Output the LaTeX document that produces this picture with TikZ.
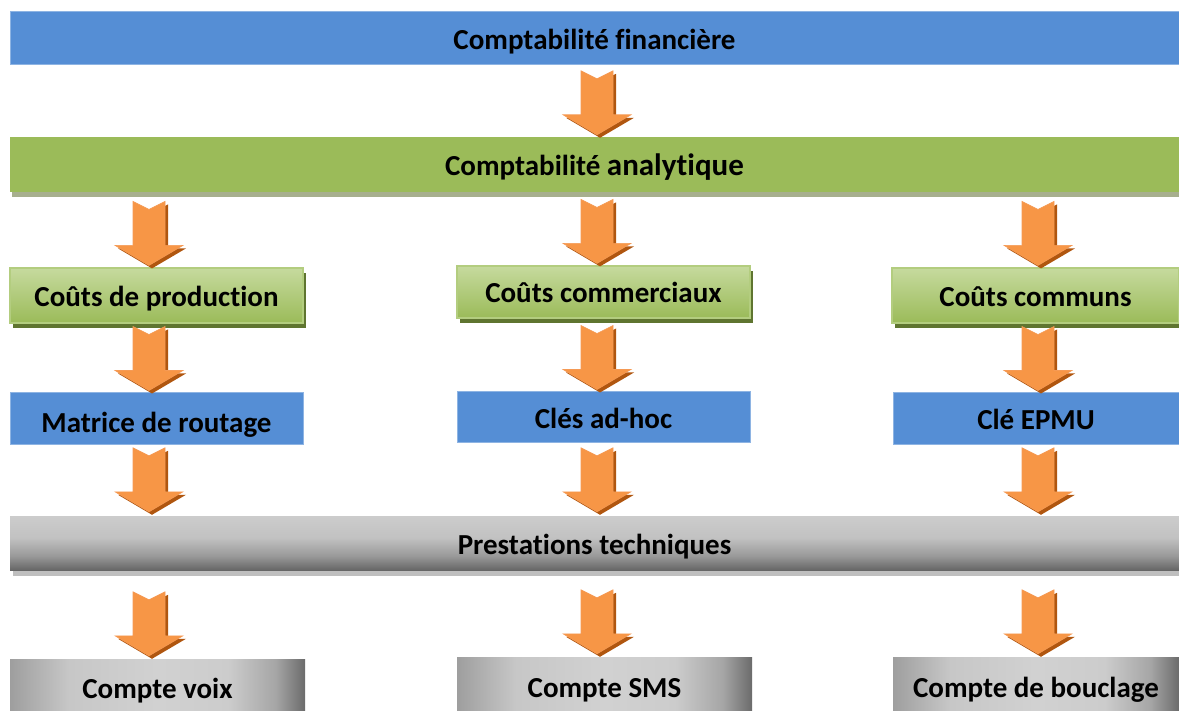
\documentclass[tikz,border=0pt]{standalone}
\usepackage{fontspec}
\setmainfont[Ligatures=NoCommon]{Carlito}
\usetikzlibrary{calc,shadows}
\definecolor{barblue}{HTML}{558ED5}
\definecolor{barblueline}{HTML}{8EB4E3}
\definecolor{bargreen}{HTML}{9BBB59}
\definecolor{greenlight}{HTML}{C6DA9E}
\definecolor{greenline}{HTML}{B3CD7F}
\definecolor{greenshadow}{HTML}{A7AF8E}
\definecolor{oliveshadow}{HTML}{5F7530}
\definecolor{orangemain}{HTML}{F79646}
\definecolor{orangelight}{HTML}{FBC8A0}
\definecolor{orangeshadow}{HTML}{B0560F}
\definecolor{orangeline}{HTML}{F59A55}
\definecolor{grayshadow}{HTML}{BFBFBF}
\pgfdeclarehorizontalshading{grayh}{100bp}{%
  color(0bp)=(black!38); color(25bp)=(black!38); color(35bp)=(black!22);
  color(50bp)=(black!18); color(62bp)=(black!20); color(70bp)=(black!35);
  color(75bp)=(black!58); color(100bp)=(black!58)}
\pgfdeclareverticalshading{grayv}{100bp}{%
  color(0bp)=(black!60); color(25bp)=(black!60); color(38bp)=(black!40);
  color(55bp)=(black!24); color(75bp)=(black!20); color(100bp)=(black!20)}
\tikzset{
  txt/.style={font=\fontsize{29}{32}\selectfont\bfseries, text=black, inner sep=0pt,
    text height=23pt, text depth=1pt},
  bluebox/.style={txt, fill=barblue, draw=barblueline, line width=1pt},
  greenbar/.style={txt, fill=bargreen,
    drop shadow={shadow xshift=2pt, shadow yshift=-5pt, fill=greenshadow, opacity=1}},
  greenbox/.style={txt, top color=greenlight, bottom color=bargreen, draw=greenline, line width=1.2pt,
    drop shadow={shadow xshift=3pt, shadow yshift=-5pt, fill=oliveshadow, opacity=1}},
  graybar/.style={txt, shading=grayv,
    drop shadow={shadow xshift=3pt, shadow yshift=-6pt, fill=grayshadow, opacity=1}},
  graybox/.style={txt, shading=grayh},
  darrow/.pic={
    \fill[orangeshadow, shift={(3,3)}] (-16,-64) -- (0,-56) -- (16,-64) -- (16,-20) -- (34,-20)
      -- (0,0) -- (-34,-20) -- (-16,-20) -- cycle;
    \shade[left color=orangemain, middle color=orangelight, right color=orangemain,
      draw=orangeline, line width=0.6pt]
      (-16,-64) -- (0,-56) -- (16,-64) -- (16,-20) -- (34,-20)
      -- (0,0) -- (-34,-20) -- (-16,-20) -- cycle;
  }
}
\begin{document}
\begin{tikzpicture}[x=1pt, y=-1pt]
\useasboundingbox (0,0) rectangle (1179,711);
% column axes for the arrows
\coordinate (colA) at (149,0);
\coordinate (colB) at (597,0);
\coordinate (colC) at (1038,0);
% nodes
\node[bluebox, minimum width=1169pt, minimum height=53pt] (fin) at (594.5,38.5) {Comptabilité financière};
\node[greenbar, minimum width=1169pt, minimum height=55pt] (ana) at (594.5,164.5)
  {Comptabilité {\fontsize{31}{34}\selectfont analytique}};
\node[greenbox, minimum width=293pt, minimum height=55pt] (cp) at (156.5,295.5) {Coûts de production};
\node[greenbox, minimum width=293pt, minimum height=52pt] (cc) at (603.5,292) {Coûts commerciaux};
\node[greenbox, minimum width=287pt, minimum height=55pt] (cm) at (1035.5,295.5) {Coûts communs};
\node[bluebox, minimum width=293pt, minimum height=52pt] (mr) at (156.5,419) {\raisebox{-3pt}{Matrice de routage}};
\node[bluebox, minimum width=293pt, minimum height=51pt] (ca) at (603.5,417.5) {Clés ad-hoc};
\node[bluebox, minimum width=286pt, minimum height=52pt] (ce) at (1036,419) {Clé EPMU};
\node[graybar, minimum width=1169pt, minimum height=54pt] (pt) at (594.5,543) {Prestations techniques};
\node[graybox, minimum width=295pt, minimum height=52pt] (cv) at (157.5,685) {\raisebox{-2pt}{Compte voix}};
\node[graybox, minimum width=295pt, minimum height=54pt] (cs) at (604.5,684) {\raisebox{-2pt}{Compte SMS}};
\node[graybox, minimum width=286pt, minimum height=54pt] (cb) at (1036,684) {\raisebox{-2pt}{Compte de bouclage}};
% block arrows (tip just above the target node)
\pic at ($(ana.north -| colB)+(0,-2)$) {darrow};
\pic at ($(cp.north -| colA)+(0,-2)$) {darrow};
\pic at ($(cc.north -| colB)+(0,-2)$) {darrow};
\pic at ($(cm.north -| colC)+(0,-2)$) {darrow};
\pic at ($(mr.north -| colA)+(0,-2)$) {darrow};
\pic at ($(ca.north -| colB)+(0,-2)$) {darrow};
\pic at ($(ce.north -| colC)+(0,-2)$) {darrow};
\pic at ($(pt.north -| colA)+(0,-4)$) {darrow};
\pic at ($(pt.north -| colB)+(0,-4)$) {darrow};
\pic at ($(pt.north -| colC)+(0,-4)$) {darrow};
\pic at ($(cv.north -| colA)+(0,-3)$) {darrow};
\pic at ($(cs.north -| colB)+(0,-3)$) {darrow};
\pic at ($(cb.north -| colC)+(0,-3)$) {darrow};
\end{tikzpicture}
\end{document}
